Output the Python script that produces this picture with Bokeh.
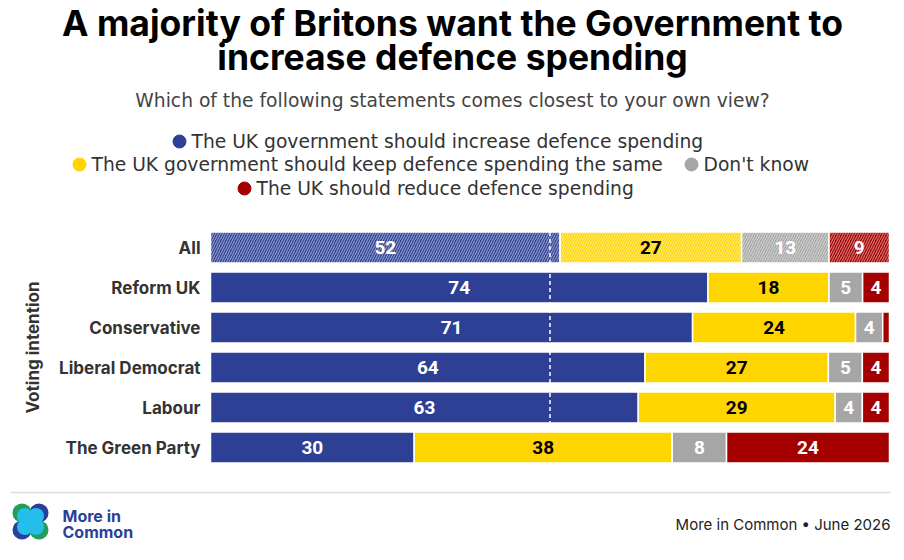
from bokeh.plotting import figure
from bokeh.layouts import column
from bokeh.models import Range1d, ColumnDataSource
from bokeh.core.properties import value
from bokeh.embed import file_html
from bokeh.resources import INLINE
import math

# data
groups = ["All", "Reform UK", "Conservative", "Liberal Democrat", "Labour", "The Green Party"]
increase = [52, 74, 71, 64, 63, 30]
same = [27, 18, 24, 27, 29, 38]
dont_know = [13, 5, 4, 5, 4, 8]
reduce = [9, 4, 1, 4, 4, 24]

answers = ["The UK government should increase defence spending",
           "The UK government should keep defence spending the same",
           "Don't know",
           "The UK should reduce defence spending"]
colors = ["#2E4095", "#FFD500", "#A6A6A6", "#A50000"]
label_colors = ["white", "black", "white", "white"]

W = 896
FONT = "Inter"
TEXT_FONT = "DejaVu Sans"
NUM_FONT = "Roboto"


def blank(height, x_range=None, y_range=None):
    f = figure(width=W, height=height,
               x_range=x_range or Range1d(0, W), y_range=y_range or Range1d(height, 0),
               output_backend="svg", toolbar_location=None, min_border=0)
    f.axis.visible = False
    f.grid.visible = False
    f.outline_line_color = None
    return f


# header: title, subtitle, legend
head = blank(225)
head.text(x=[452, 452], y=[23, 57],
          text=["A majority of Britons want the Government to", "increase defence spending"],
          text_align="center", text_baseline="middle", text_font=value(FONT),
          text_font_style="bold", text_font_size="35.5px", text_color="#000000")
head.text(x=[452], y=[100], text=["Which of the following statements comes closest to your own view?"],
          text_align="center", text_baseline="middle", text_font=value(TEXT_FONT),
          text_font_size="18.7px", text_color="#444444")

leg_rows = [[0], [1, 2], [3]]
leg_y = [141, 164, 188]
leg_x = [[179], [79, 691], [244]]
for row, y, xs in zip(leg_rows, leg_y, leg_x):
    for k, x in zip(row, xs):
        head.scatter(x=[x], y=[y], size=13, color=colors[k], marker="circle")
        head.text(x=[x + 12], y=[y], text=[answers[k]], text_align="left", text_baseline="middle",
                  text_font=value(TEXT_FONT), text_font_size="18.7px", text_color="#333333")

# chart: frame spans the whole figure; bars run from x 210 to 889
ypos = list(range(len(groups) - 1, -1, -1))
series = [increase, same, dont_know, reduce]
seg = dict(y=[], left=[], right=[], mid=[], color=[], hatch=[], label=[], lcolor=[])
for i, g in enumerate(groups):
    total = sum(s[i] for s in series)
    acc = 0.0
    for k, s in enumerate(series):
        w = s[i] / total * 100
        seg["y"].append(ypos[i])
        seg["left"].append(acc)
        seg["right"].append(acc + w)
        seg["mid"].append(acc + w / 2)
        seg["color"].append(colors[k])
        seg["hatch"].append("/" if g == "All" else " ")
        seg["label"].append(str(s[i]) if s[i] >= 3 else "")
        seg["lcolor"].append(label_colors[k])
        acc += w
src = ColumnDataSource(seg)

px = 679 / 100.0
p = blank(244, x_range=Range1d(-210 / px, 100 + 7 / px), y_range=Range1d(-0.55, len(groups) - 0.45))
p.hbar(y="y", left="left", right="right", height=0.78, source=src, fill_color="color",
       line_color="white", line_width=1.5, hatch_pattern="hatch", hatch_color="white",
       hatch_alpha=0.45, hatch_scale=5, hatch_weight=1.2)
p.segment(x0=[50], x1=[50], y0=[ypos[0] + 0.39], y1=[ypos[-2] - 0.39], line_color="white",
          line_width=1.5, line_dash="4 3")
p.text(x="mid", y="y", text="label", source=src, text_color="lcolor", text_align="center",
       text_baseline="middle", text_font=value(NUM_FONT), text_font_style="bold",
       text_font_size="19px")

# category labels and group title
p.text(x=[-10 / px] * len(groups), y=ypos, text=groups, text_align="right", text_baseline="middle",
       text_font=value(FONT), text_font_style="bold", text_font_size="17px", text_color="#333333")
p.text(x=[-178 / px], y=[2.5], text=["Voting intention"], angle=math.pi / 2, text_align="center",
       text_baseline="middle", text_font=value(FONT), text_font_style="bold",
       text_font_size="17px", text_color="#333333")

# footer
foot = blank(83)
foot.segment(x0=[10], x1=[890], y0=[23], y1=[23], line_color="#DDDDDD", line_width=1.5)
cx, cy, d = 30, 52, 8.5
foot.circle(x=[cx - d, cx + d, cx - d, cx + d], y=[cy - d, cy - d, cy + d, cy + d], radius=9.5,
            fill_color=["#1FA055", "#2A3F98", "#2A3F98", "#1FA055"], line_color=None)
foot.circle(x=[cx - d + 3, cx + d - 3, cx - d + 3, cx + d - 3], y=[cy - d + 3, cy - d + 3, cy + d - 3, cy + d - 3],
            radius=8, fill_color="#25BDEA", line_color=None)
foot.text(x=[62, 62], y=[46, 62], text=["More in", "Common"], text_align="left", text_baseline="middle",
          text_font=value(FONT), text_font_style="bold", text_font_size="16px", text_color="#2A3F98")
foot.text(x=[890], y=[55], text=["More in Common \u2022 June 2026"], text_align="right",
          text_baseline="middle", text_font=value(FONT), text_font_size="15px", text_color="#222222")

layout = column(head, p, foot, spacing=0)
open("out.html", "w").write(file_html(layout, INLINE))
